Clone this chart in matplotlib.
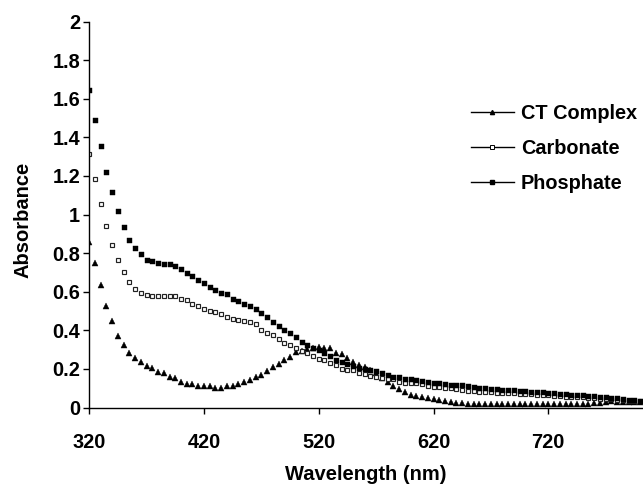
import numpy as np
import matplotlib
matplotlib.use("Agg")
import matplotlib.pyplot as plt
from matplotlib.lines import Line2D

plt.rcParams['font.family'] = ['Liberation Sans', 'DejaVu Sans']
plt.rcParams['font.weight'] = 'bold'

wavelength = list(range(320, 801, 5))

ct_complex = [
    0.860, 0.747, 0.633, 0.526, 0.449, 0.371, 0.323, 0.285, 0.255, 0.236,
    0.216, 0.207, 0.186, 0.177, 0.160, 0.151, 0.132, 0.120, 0.120, 0.112,
    0.112, 0.112, 0.103, 0.103, 0.112, 0.112, 0.120, 0.132, 0.141, 0.160,
    0.170, 0.190, 0.208, 0.228, 0.245, 0.264, 0.288, 0.294, 0.304, 0.307,
    0.314, 0.306, 0.306, 0.285, 0.276, 0.255, 0.238, 0.222, 0.210, 0.195,
    0.178, 0.155, 0.130, 0.110, 0.095, 0.080, 0.066, 0.060, 0.055, 0.051,
    0.046, 0.040, 0.034, 0.029, 0.025, 0.022, 0.020, 0.020, 0.020, 0.020,
    0.020, 0.020, 0.020, 0.020, 0.020, 0.020, 0.020, 0.020, 0.020, 0.020,
    0.020, 0.020, 0.020, 0.020, 0.020, 0.020, 0.020, 0.020, 0.022, 0.026,
    0.030, 0.032, 0.030, 0.030, 0.030, 0.030, 0.030,
]

carbonate = [
    1.315, 1.182, 1.055, 0.941, 0.844, 0.766, 0.700, 0.650, 0.614, 0.593,
    0.584, 0.576, 0.576, 0.576, 0.576, 0.576, 0.562, 0.557, 0.538, 0.527,
    0.508, 0.501, 0.494, 0.487, 0.470, 0.461, 0.456, 0.449, 0.441, 0.432,
    0.403, 0.384, 0.376, 0.354, 0.333, 0.325, 0.307, 0.294, 0.280, 0.268,
    0.250, 0.245, 0.233, 0.221, 0.198, 0.193, 0.193, 0.181, 0.172, 0.164,
    0.158, 0.155, 0.146, 0.146, 0.134, 0.125, 0.125, 0.125, 0.120, 0.112,
    0.108, 0.106, 0.103, 0.099, 0.094, 0.091, 0.086, 0.086, 0.081, 0.080,
    0.079, 0.077, 0.076, 0.074, 0.073, 0.071, 0.070, 0.068, 0.066, 0.064,
    0.063, 0.061, 0.059, 0.057, 0.056, 0.054, 0.052, 0.050, 0.048, 0.046,
    0.044, 0.042, 0.040, 0.038, 0.036, 0.034, 0.032,
]

phosphate = [
    1.644, 1.488, 1.355, 1.220, 1.116, 1.017, 0.934, 0.870, 0.825, 0.797,
    0.766, 0.757, 0.747, 0.745, 0.742, 0.731, 0.719, 0.699, 0.680, 0.662,
    0.643, 0.622, 0.610, 0.596, 0.586, 0.564, 0.550, 0.538, 0.526, 0.508,
    0.489, 0.470, 0.442, 0.420, 0.403, 0.384, 0.363, 0.342, 0.325, 0.311,
    0.299, 0.283, 0.268, 0.245, 0.238, 0.228, 0.216, 0.207, 0.198, 0.193,
    0.190, 0.177, 0.169, 0.160, 0.160, 0.150, 0.146, 0.143, 0.138, 0.132,
    0.129, 0.125, 0.124, 0.117, 0.115, 0.115, 0.112, 0.106, 0.103, 0.100,
    0.098, 0.096, 0.093, 0.091, 0.089, 0.087, 0.085, 0.083, 0.080, 0.078,
    0.076, 0.073, 0.071, 0.069, 0.067, 0.065, 0.063, 0.061, 0.058, 0.056,
    0.053, 0.050, 0.047, 0.044, 0.040, 0.037, 0.034,
]

series_labels = ["CT Complex", "Carbonate", "Phosphate"]
x_ticks = [320, 420, 520, 620, 720]
y_ticks = [0, 0.2, 0.4, 0.6, 0.8, 1, 1.2, 1.4, 1.6, 1.8, 2]
y_tick_labels = ["0", "0.2", "0.4", "0.6", "0.8", "1", "1.2", "1.4", "1.6", "1.8", "2"]

fig = plt.figure(figsize=(6.43, 4.84), dpi=100)
ax = fig.add_axes([0.1387, 0.1580, 0.8613, 0.7975])

ax.plot(wavelength, ct_complex, linestyle='none', marker='^', markersize=4.0,
        color='black', markeredgewidth=0.3)
ax.plot(wavelength, carbonate, linestyle='none', marker='s', markersize=3.5,
        markerfacecolor='white', markeredgecolor='#222222', markeredgewidth=0.85)
ax.plot(wavelength, phosphate, linestyle='none', marker='s', markersize=3.6,
        color='black', markeredgewidth=0.3)

ax.set_xlim(320, 802.5)
ax.set_ylim(0, 2)
ax.set_xticks(x_ticks)
ax.set_xticklabels([str(t) for t in x_ticks])
ax.set_yticks(y_ticks)
ax.set_yticklabels(y_tick_labels)

for s in ['top', 'right']:
    ax.spines[s].set_visible(False)
for s in ['left', 'bottom']:
    ax.spines[s].set_linewidth(1.0)

ax.tick_params(axis='x', direction='out', length=4.5, width=1, pad=14, labelsize=14.3)
ax.tick_params(axis='y', direction='out', length=4.5, width=1, pad=2, labelsize=14.3)
for lab in ax.get_xticklabels() + ax.get_yticklabels():
    lab.set_fontweight('bold')

fig.text(0.569, 1 - 475 / 484, "Wavelength (nm)", ha='center', va='center',
         fontsize=14.5, fontweight='bold')
fig.text(0.036, 0.545, "Absorbance", ha='center', va='center', rotation=90,
         fontsize=14.5, fontweight='bold')

handles = [
    Line2D([0], [0], color='black', lw=1, marker='^', markersize=3,
           markerfacecolor='black', markeredgecolor='black'),
    Line2D([0], [0], color='black', lw=1, marker='s', markersize=2.8,
           markerfacecolor='white', markeredgecolor='black', markeredgewidth=0.7),
    Line2D([0], [0], color='black', lw=1, marker='s', markersize=2.8,
           markerfacecolor='black', markeredgecolor='black'),
]
leg = fig.legend(handles, series_labels, loc='upper left',
                 bbox_to_anchor=(471 / 643, 1 - 104 / 484),
                 frameon=False, borderpad=0, borderaxespad=0,
                 handlelength=2.15, handletextpad=0.35, labelspacing=0.8,
                 prop={'family': 'Liberation Sans', 'weight': 'bold', 'size': 14.3})

fig.savefig("out.png", dpi=100)
